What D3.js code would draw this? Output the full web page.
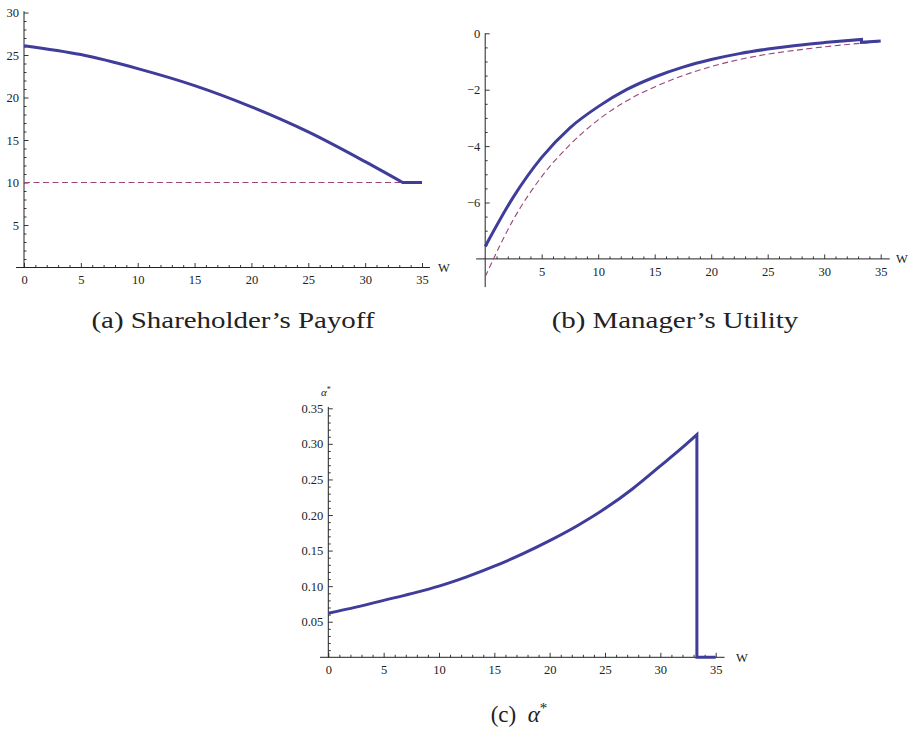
<!DOCTYPE html>
<html><head><meta charset="utf-8">
<script src="https://cdn.jsdelivr.net/npm/d3@7"></script>
<style>
html,body{margin:0;padding:0;background:#fff;}
svg text{font-family:"Liberation Serif","Times New Roman",serif;fill:#222;}
</style></head>
<body>
<svg id="c" width="910" height="735"></svg>
<script>
// ---------- DATA ----------
// (a) Shareholder's payoff
const payoffW   = [0, 5, 10, 15, 20, 25, 30, 33.3];
const payoffV   = [26.1, 25.05, 23.4, 21.4, 18.9, 15.95, 12.45, 10.0];
const payoffTailW = [33.3, 35];
const payoffTailV = [10.0, 10.0];
const payoffRefW = [0, 35];
const payoffRefV = [10, 10];
// (b) Manager's utility
const utilW   = [0, 2.5, 5, 7.5, 10, 12.5, 15, 17.5, 20, 22.5, 25, 27.5, 30, 33.3];
const utilV   = [-7.56, -5.8, -4.4, -3.35, -2.6, -2.0, -1.55, -1.2, -0.93, -0.72, -0.56, -0.43, -0.33, -0.22];
const utilTailW = [33.3, 33.3, 35];
const utilTailV = [-0.22, -0.32, -0.27];
const utilRefW = [0, 2.5, 5, 7.5, 10, 12.5, 15, 17.5, 20, 22.5, 25, 27.5, 30, 32.5, 35];
const utilRefV = [-8.63, -6.6, -5.08, -3.95, -3.07, -2.4, -1.9, -1.5, -1.18, -0.93, -0.74, -0.6, -0.48, -0.38, -0.3];
// (c) alpha*
const alphaW = [0, 2.5, 5, 7.5, 10, 12.5, 15, 17.5, 20, 22.5, 25, 27.5, 30, 32, 33.3];
const alphaV = [0.062, 0.0705, 0.080, 0.0895, 0.100, 0.113, 0.128, 0.145, 0.164, 0.185, 0.209, 0.237, 0.269, 0.295, 0.313];
const alphaTailW = [33.3, 33.3, 35];
const alphaTailV = [0.313, 0, 0];
// ticks
const xMajor = [0, 5, 10, 15, 20, 25, 30, 35];
const xMajorB = [5, 10, 15, 20, 25, 30, 35];
const yMajorA = [5, 10, 15, 20, 25, 30];
const yMajorB = [0, -2, -4, -6];
const yMajorC = [0.05, 0.10, 0.15, 0.20, 0.25, 0.30, 0.35];
const captions = ["(a) Shareholder\u2019s Payoff", "(b) Manager\u2019s Utility", "(c)"];

// ---------- STYLE ----------
const BLUE = "#3f3c9a", PINK = "#9c4577";
const FONT = '"Liberation Serif","Times New Roman",serif';
const svg = d3.select("#c");
const zip = (a, b) => a.map((v, i) => [v, b[i]]);

function styleAxis(a) {
  a.attr("font-family", FONT).attr("font-size", 12.5);
  a.selectAll("text").style("font-family", FONT).style("font-size", "12.5px").style("fill", "#222");
  a.selectAll("line").attr("stroke", "#222").attr("stroke-width", 0.9);
}

function panel(cfg) {
  const g = svg.append("g");
  const x = d3.scaleLinear().domain([0, 35]).range(cfg.xr);
  const y = d3.scaleLinear().domain(cfg.yd).range(cfg.yr);
  const y0 = y(cfg.axisY);
  const xMinor = d3.range(0, 36).filter(v => v % 5 !== 0);
  const a1 = g.append("g").attr("transform", `translate(0,${y0})`)
    .call(d3.axisBottom(x).tickValues(xMinor).tickSize(-2.5).tickFormat(""));
  a1.select(".domain").remove();
  const a2 = g.append("g").attr("transform", `translate(${x(0)},0)`)
    .call(d3.axisLeft(y).tickValues(cfg.yMinor).tickSize(-2.5).tickFormat(""));
  a2.select(".domain").remove();
  const xa = g.append("g").attr("transform", `translate(0,${y0})`)
    .call(d3.axisBottom(x).tickValues(cfg.xMajor).tickSize(-4.5).tickPadding(8).tickFormat(d3.format("d")));
  xa.select(".domain").remove();
  const ya = g.append("g").attr("transform", `translate(${x(0)},0)`)
    .call(d3.axisLeft(y).tickValues(cfg.yMajor).tickSize(-4.5).tickPadding(5).tickFormat(cfg.yFmt));
  ya.select(".domain").remove();
  [a1, a2, xa, ya].forEach(styleAxis);
  // axis lines
  g.append("line").attr("x1", x(cfg.xAxisFrom)).attr("x2", x(cfg.xAxisTo)).attr("y1", y0).attr("y2", y0)
    .attr("stroke", "#222").attr("stroke-width", 1);
  g.append("line").attr("x1", x(0)).attr("x2", x(0)).attr("y1", y(cfg.yAxisFrom)).attr("y2", y(cfg.yAxisTo))
    .attr("stroke", "#222").attr("stroke-width", 1);
  g.append("text").attr("x", cfg.wx).attr("y", y0 + 4.5).attr("font-size", 12.5).text("W");
  if (cfg.ref) {
    g.append("path").attr("d", d3.line().x(d => x(d[0])).y(d => y(d[1])).curve(d3.curveMonotoneX)(cfg.ref))
      .attr("fill", "none").attr("stroke", PINK).attr("stroke-width", 1.1).attr("stroke-dasharray", "6,3.5");
  }
  const d1 = d3.line().x(d => x(d[0])).y(d => y(d[1])).curve(d3.curveMonotoneX)(cfg.main);
  const d2 = d3.line().x(d => x(d[0])).y(d => y(d[1]))(cfg.tail).replace(/^M/, "L");
  g.append("path").attr("d", d1 + d2).attr("fill", "none").attr("stroke", BLUE)
    .attr("stroke-width", 3).attr("stroke-linejoin", "miter");
  return {g, x, y};
}

panel({
  xr: [24, 422], yd: [0, 30], yr: [267.5, 12.5], axisY: 0,
  xMajor: xMajor, yMajor: yMajorA, yMinor: d3.range(1, 30).filter(v => v % 5 !== 0),
  yFmt: d3.format("d"), xAxisFrom: -0.7, xAxisTo: 35.7, yAxisFrom: 0, yAxisTo: 30.15, wx: 438,
  ref: zip(payoffRefW, payoffRefV), main: zip(payoffW, payoffV), tail: zip(payoffTailW, payoffTailV)
});

panel({
  xr: [485.2, 880.7], yd: [-9, 0], yr: [287.1, 33.3], axisY: -8,
  xMajor: xMajorB, yMajor: yMajorB, yMinor: d3.range(-7.5, 0.01, 0.5).filter(v => Math.abs(v % 2) > 0.01),
  yFmt: d => d3.format("d")(d).replace("-", "\u2212"), xAxisFrom: -0.8, xAxisTo: 35.8, yAxisFrom: -9, yAxisTo: 0, wx: 896,
  ref: zip(utilRefW, utilRefV), main: zip(utilW, utilV), tail: zip(utilTailW, utilTailV)
});

panel({
  xr: [328.3, 715.7], yd: [0, 0.35], yr: [657.3, 408.3], axisY: 0,
  xMajor: xMajor, yMajor: yMajorC, yMinor: d3.range(1, 35).filter(v => v % 5 !== 0).map(v => v / 100),
  yFmt: d3.format(".2f"), xAxisFrom: -0.75, xAxisTo: 35.8, yAxisFrom: 0, yAxisTo: 0.352, wx: 736,
  ref: null, main: zip(alphaW, alphaV), tail: zip(alphaTailW, alphaTailV)
});
// alpha* axis label
const al = svg.append("text").attr("x", 321).attr("y", 396).attr("font-size", 11).attr("font-style", "italic");
al.append("tspan").text("\u03B1");
al.append("tspan").attr("dy", -4).attr("font-size", 8).attr("font-style", "normal").text("*");

// captions (stretched to mimic the wider Computer Modern face)
const capA = svg.append("text").attr("x", 233).attr("y", 328).attr("text-anchor", "middle").attr("font-size", 23).text(captions[0]);
const natA = capA.node().getComputedTextLength();
const factor = 283 / natA;
capA.attr("textLength", 283).attr("lengthAdjust", "spacingAndGlyphs");
const capB = svg.append("text").attr("x", 675).attr("y", 328).attr("text-anchor", "middle").attr("font-size", 23).text(captions[1]);
capB.attr("textLength", capB.node().getComputedTextLength() * factor).attr("lengthAdjust", "spacingAndGlyphs");
const cc = svg.append("text").attr("x", 519).attr("y", 722).attr("text-anchor", "middle").attr("font-size", 23);
cc.append("tspan").text(captions[2] + "\u2002");
cc.append("tspan").attr("font-style", "italic").text("\u03B1");
cc.append("tspan").attr("dy", -9).attr("font-size", 15).text("*");
</script>
</body></html>
